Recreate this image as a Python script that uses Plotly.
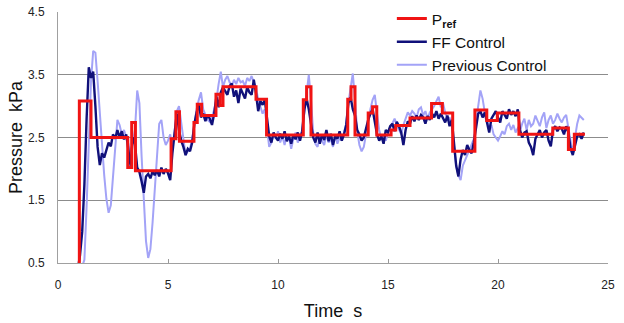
import numpy as np
import plotly.graph_objects as go

# ---- Reference pressure (step changes): start times and levels ----
pref_t = [0.97, 0.97, 1.50, 3.17, 3.35, 3.52, 5.14, 5.36, 5.52, 6.18, 6.33, 6.53,
          7.18, 7.36, 7.50, 9.00, 9.48, 11.15, 11.30, 11.50, 13.17, 13.32, 13.50,
          14.10, 14.30, 14.49, 15.14, 15.35, 16.00, 16.98, 17.47, 17.94, 18.95,
          19.49, 19.97, 20.95, 22.49, 23.20, 23.47, 23.95]
pref_p = [0.40, 3.08, 2.50, 2.02, 2.74, 1.97, 2.48, 2.91, 2.44, 2.74, 3.03, 2.85,
          3.19, 3.01, 3.31, 3.11, 2.54, 3.10, 3.31, 2.54, 3.11, 3.31, 2.54,
          2.89, 2.99, 2.54, 2.62, 2.69, 2.81, 3.04, 2.89, 2.28, 2.94,
          2.77, 2.89, 2.55, 2.65, 2.31, 2.55, 2.55]

# ---- Sampled signals, every 0.1 s starting at 0.9 s ----
t_start = 0.9
t_step = 0.1

ff_p = [
    0.40,                                                        # 0.9
    0.62, 1.00, 1.75, 2.80, 3.62, 3.45, 3.55, 3.00, 2.35, 2.06,  # 1.x
    2.25, 2.18, 2.32, 2.42, 2.36, 2.55, 2.48, 2.62, 2.50, 2.60,  # 2.x
    2.47, 2.55, 2.30, 2.05, 2.50, 2.40, 2.02, 1.95, 1.80, 1.62,  # 3.x
    1.88, 1.92, 1.85, 1.96, 1.90, 1.98, 1.88, 2.02, 1.92, 2.00,  # 4.x
    1.93, 1.82, 2.25, 2.58, 2.88, 2.62, 2.45, 2.35, 2.22, 2.32,  # 5.x
    2.28, 2.42, 2.72, 2.90, 3.03, 2.82, 2.88, 2.76, 2.86, 2.80,  # 6.x
    2.70, 2.88, 3.15, 2.98, 3.22, 3.30, 3.25, 3.18, 3.32, 3.36,  # 7.x
    3.15, 3.25, 3.05, 3.28, 3.20, 3.12, 3.30, 3.22, 3.18, 3.42,  # 8.x
    3.20, 2.92, 3.08, 3.02, 3.10, 2.80, 2.52, 2.42, 2.58, 2.50,  # 9.x
    2.45, 2.56, 2.48, 2.60, 2.44, 2.52, 2.40, 2.55, 2.47, 2.58,  # 10.x
    2.45, 2.60, 2.95, 3.12, 2.95, 2.72, 2.50, 2.42, 2.58, 2.40,  # 11.x
    2.55, 2.46, 2.62, 2.44, 2.56, 2.38, 2.52, 2.48, 2.60, 2.45,  # 12.x
    2.55, 2.70, 3.05, 3.14, 2.95, 2.85, 2.62, 2.55, 2.45, 2.50,  # 13.x
    2.65, 2.78, 2.88, 2.95, 2.75, 2.55, 2.45, 2.52, 2.40, 2.62,  # 14.x
    2.58, 2.68, 2.72, 2.60, 2.75, 2.68, 2.58, 2.38, 2.62, 2.76,  # 15.x
    2.72, 2.84, 2.76, 2.85, 2.78, 2.86, 2.82, 2.72, 2.84, 2.78,  # 16.x
    2.88, 2.82, 2.92, 2.80, 2.88, 2.82, 2.74, 2.85, 2.68, 2.78,  # 17.x
    2.40, 2.05, 1.88, 2.15, 2.30, 2.22, 2.38, 2.30, 2.25, 2.42,  # 18.x
    2.65, 2.88, 2.92, 2.82, 2.90, 2.75, 2.58, 2.80, 2.86, 2.92,  # 19.x
    2.82, 2.74, 2.92, 2.85, 2.80, 2.95, 2.86, 2.92, 2.84, 2.95,  # 20.x
    2.62, 2.50, 2.58, 2.60, 2.42, 2.35, 2.22, 2.48, 2.55, 2.62,  # 21.x
    2.50, 2.58, 2.62, 2.45, 2.36, 2.62, 2.68, 2.60, 2.66, 2.64,  # 22.x
    2.55, 2.68, 2.58, 2.32, 2.22, 2.40, 2.52, 2.55, 2.48, 2.58,  # 23.x
]

prev_p = [
    0.40,                                                        # 0.9
    0.40, 0.45, 0.55, 1.40, 2.45, 3.40, 3.88, 3.85, 3.40, 2.85,  # 1.x
    2.35, 1.90, 1.52, 1.30, 1.42, 1.85, 2.40, 2.78, 2.70, 2.55,  # 2.x
    2.62, 2.52, 2.40, 2.25, 2.45, 2.62, 3.25, 3.05, 2.20, 1.45,  # 3.x
    0.85, 0.58, 0.72, 1.15, 1.70, 2.30, 2.72, 2.78, 2.50, 2.38,  # 4.x
    2.45, 2.55, 2.35, 2.60, 2.92, 3.00, 2.75, 2.50, 2.22, 2.28,  # 5.x
    2.32, 2.48, 2.75, 2.95, 3.10, 3.22, 2.95, 2.85, 2.78, 2.75,  # 6.x
    2.82, 2.95, 3.10, 3.35, 3.55, 3.30, 3.42, 3.48, 3.38, 3.32,  # 7.x
    3.42, 3.35, 3.45, 3.38, 3.40, 3.32, 3.45, 3.40, 3.48, 3.38,  # 8.x
    3.30, 3.10, 3.00, 2.88, 2.95, 2.62, 2.35, 2.42, 2.55, 2.48,  # 9.x
    2.60, 2.42, 2.52, 2.38, 2.55, 2.50, 2.32, 2.48, 2.58, 2.42,  # 10.x
    2.50, 2.62, 2.90, 3.25, 3.50, 3.10, 2.58, 2.40, 2.35, 2.52,  # 11.x
    2.45, 2.38, 2.55, 2.42, 2.48, 2.35, 2.55, 2.40, 2.50, 2.45,  # 12.x
    2.58, 2.72, 3.05, 3.30, 3.52, 3.10, 2.60, 2.38, 2.28, 2.35,  # 13.x
    2.55, 2.78, 2.95, 3.10, 3.18, 2.88, 2.62, 2.48, 2.55, 2.45,  # 14.x
    2.58, 2.65, 2.72, 2.80, 2.70, 2.62, 2.55, 2.70, 2.82, 2.90,  # 15.x
    2.85, 2.92, 2.88, 2.82, 2.95, 2.98, 2.85, 2.92, 2.80, 2.90,  # 16.x
    2.95, 3.00, 3.08, 3.15, 2.98, 3.05, 2.90, 2.78, 2.82, 2.70,  # 17.x
    2.35, 2.05, 1.90, 1.82, 2.05, 2.15, 2.22, 2.30, 2.38, 2.48,  # 18.x
    2.75, 3.05, 3.25, 3.12, 2.90, 2.78, 2.65, 2.70, 2.55, 2.50,  # 19.x
    2.45, 2.52, 2.60, 2.55, 2.68, 2.72, 2.62, 2.70, 2.58, 2.65,  # 20.x
    2.60, 2.72, 2.80, 2.62, 2.78, 2.68, 2.72, 2.85, 2.75, 2.68,  # 21.x
    2.82, 2.90, 2.65, 2.78, 2.85, 2.72, 2.78, 2.88, 2.80, 2.74,  # 22.x
    2.82, 2.86, 2.65, 2.45, 2.25, 2.50, 2.72, 2.85, 2.82, 2.78,  # 23.x
]

x_ticks = [0, 5, 10, 15, 20, 25]
y_ticks = [0.5, 1.5, 2.5, 3.5, 4.5]

ff_t = np.round(t_start + t_step * np.arange(len(ff_p)), 2)
prev_t = np.round(t_start + t_step * np.arange(len(prev_p)), 2)

fig = go.Figure()
fig.add_trace(go.Scatter(x=prev_t, y=prev_p, mode="lines", name="Previous Control",
                         line=dict(color="#a3a3f7", width=2), legendrank=3))
fig.add_trace(go.Scatter(x=ff_t, y=ff_p, mode="lines", name="FF Control",
                         line=dict(color="#10107a", width=2.4), legendrank=2))
fig.add_trace(go.Scatter(x=pref_t, y=pref_p, mode="lines", name="P<sub><b>ref</b></sub>",
                         line=dict(color="#f01414", width=3, shape="hv"), legendrank=1))

tick_font = dict(family="Liberation Sans Narrow, Arial Narrow, Liberation Sans", size=12, color="#222")

fig.update_layout(
    width=624, height=323,
    margin=dict(l=58, r=16, t=12, b=60, autoexpand=False),
    paper_bgcolor="white", plot_bgcolor="white",
    font=dict(family="Liberation Sans, Arial", color="#111"),
    legend=dict(x=0.607, y=1.04, xanchor="left", yanchor="top",
                bgcolor="rgba(255,255,255,0)", font=dict(size=15.5, color="#111"),
                tracegroupgap=0),
    showlegend=True,
)
fig.update_xaxes(range=[0, 25], tickvals=x_ticks, ticks="inside", ticklen=4,
                 tickcolor="#999", showline=True, linecolor="#a0a0a0", linewidth=1,
                 showgrid=False, zeroline=False, tickfont=tick_font, automargin=False,
                 ticklabelstandoff=11,
                 title=dict(text="Time  s", font=dict(size=18), standoff=12))
fig.update_yaxes(range=[0.5, 4.5], tickvals=y_ticks, ticks="", showline=True,
                 linecolor="#a0a0a0", linewidth=1, showgrid=True, gridcolor="#8c8c8c",
                 gridwidth=1, zeroline=False, tickfont=tick_font, automargin=False,
                 ticklabelstandoff=10,
                 title=dict(text="Pressure  kPa", font=dict(size=18), standoff=0))

fig.write_html("out.html", config={"displayModeBar": False},
               post_script="document.body.style.margin='0px';document.body.style.overflow='hidden';")
